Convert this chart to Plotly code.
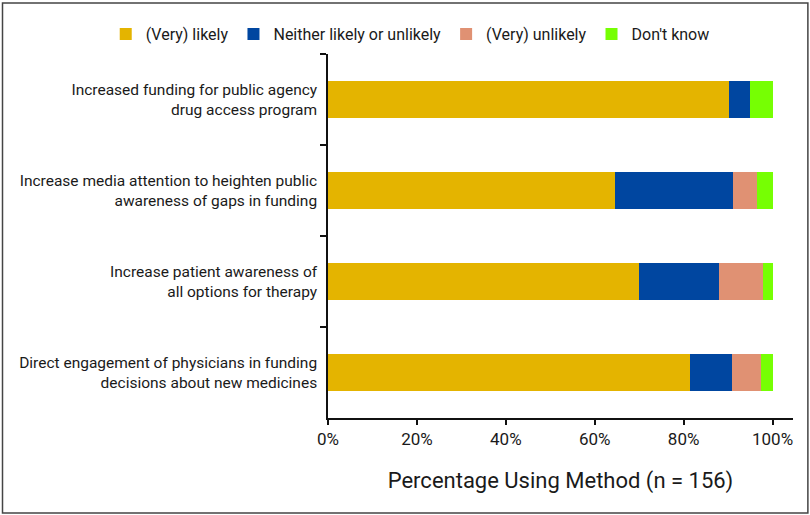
import plotly.graph_objects as go

categories = [
    "Increased funding for public agency<br>drug access program",
    "Increase media attention to heighten public<br>awareness of gaps in funding",
    "Increase patient awareness of<br>all options for therapy",
    "Direct engagement of physicians in funding<br>decisions about new medicines",
]
series_names = ["(Very) likely", "Neither likely or unlikely", "(Very) unlikely", "Don't know"]
very_likely = [90.2, 64.5, 69.9, 81.4]
neither = [4.7, 26.5, 18.0, 9.5]
very_unlikely = [0.0, 5.4, 10.0, 6.5]
dont_know = [5.1, 3.6, 2.1, 2.6]
x_ticks = [0, 20, 40, 60, 80, 100]
x_tick_labels = ["0%", "20%", "40%", "60%", "80%", "100%"]
colors = ["#E4B400", "#0046A0", "#E09173", "#76FF03"]

FONT = "Roboto, sans-serif"

fig = go.Figure()
for name, vals, col in zip(series_names, [very_likely, neither, very_unlikely, dont_know], colors):
    fig.add_trace(go.Bar(
        y=categories, x=vals, name=name, orientation="h",
        marker=dict(color=col, line=dict(width=0)),
    ))

fig.update_layout(
    barmode="stack",
    bargap=0.6,
    width=810, height=515,
    margin=dict(l=328, r=17, t=54, b=97, autoexpand=False),
    paper_bgcolor="white", plot_bgcolor="white",
    font=dict(family=FONT, color="#1a1a1a", size=16),
    legend=dict(
        orientation="h", xref="paper", yref="paper",
        x=-0.478, xanchor="left", y=1.055, yanchor="middle",
        font=dict(size=16, family=FONT, color="#1a1a1a"),
        traceorder="normal", itemwidth=30,
    ),
    showlegend=True,
    xaxis=dict(
        range=[0, 104.6], tickvals=x_ticks, ticktext=x_tick_labels,
        showline=True, linecolor="#111111", linewidth=1.5,
        ticks="outside", ticklen=5, tickcolor="#111111", tickwidth=1.5,
        showgrid=False, zeroline=False,
        tickfont=dict(size=17, family=FONT, color="#1a1a1a"),
        title=dict(text="Percentage Using Method (n = 156)",
                   font=dict(size=22, family=FONT, color="#1a1a1a"), standoff=24),
    ),
    yaxis=dict(
        categoryorder="array", categoryarray=categories, autorange="reversed",
        showline=True, linecolor="#111111", linewidth=1.5,
        ticks="outside", ticklen=6, tickcolor="#111111", tickwidth=1.5,
        tickson="boundaries", showgrid=False, zeroline=False,
        tickfont=dict(size=15.5, family=FONT, color="#1a1a1a"),
        ticklabelstandoff=6,
    ),
)

fig.add_shape(type="rect", xref="paper", yref="paper",
              x0=-0.700, x1=1.032, y0=-0.261, y1=1.140,
              line=dict(color="#444444", width=1.5), fillcolor="rgba(0,0,0,0)")

fig.write_html(
    "out.html",
    config={"displayModeBar": False},
    post_script="document.body.style.margin='0';document.body.style.overflow='hidden';",
)
